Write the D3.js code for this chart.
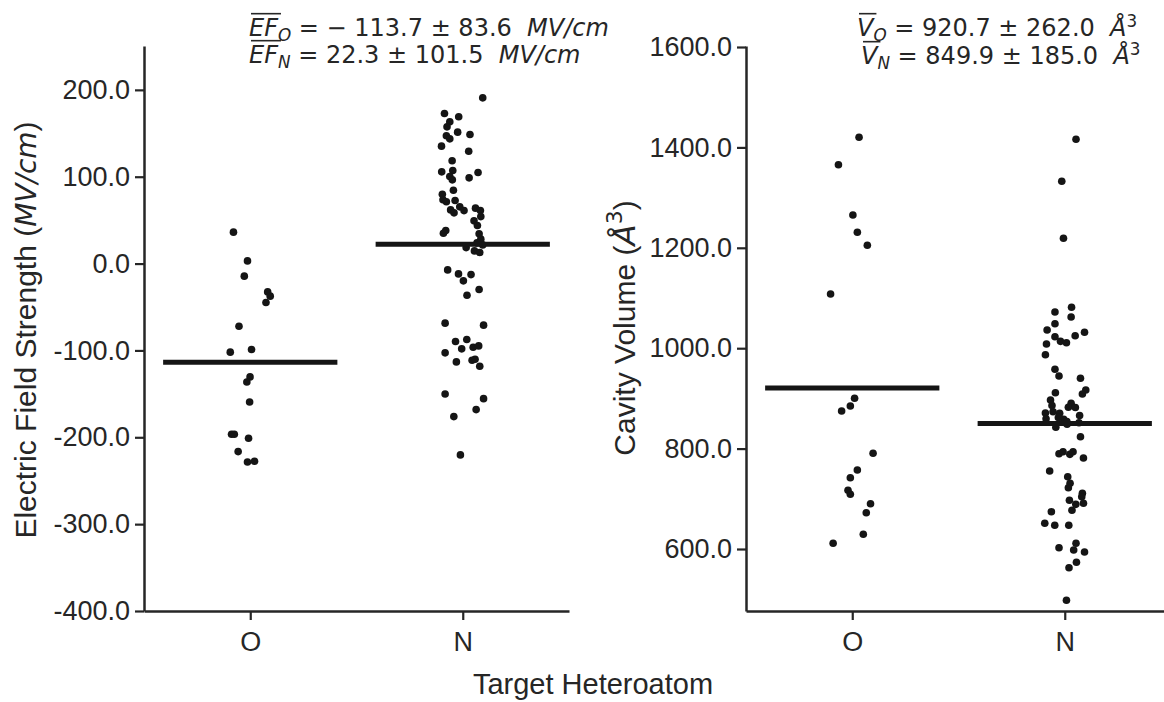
<!DOCTYPE html>
<html>
<head>
<meta charset="utf-8">
<script src="https://cdn.jsdelivr.net/npm/d3@7"></script>
<style>
body { margin: 0; background: #fff; }
svg { display: block; }
text { white-space: pre; }
</style>
</head>
<body>
<div id="chart"></div>
<script>
// categories on the x axis
var categories = ["O", "N"];

// electric field strength (MV/cm), with the stripplot jitter (category units)
var efO = [36.2, 3.1, -14.5, -32.6, -37.5, -44.9, -72.1, -102.0, -99.0, -130.5,
           -136.3, -159.3, -196.5, -196.5, -201.1, -216.5, -228.4, -227.6];
var efOJit = [-0.079, -0.013, -0.028, 0.082, 0.094, 0.074, -0.053, -0.094, 0.006, -0.001,
              -0.016, -0.003, -0.088, -0.075, -0.008, -0.057, -0.013, 0.020];
var efN = [190.8, 172.8, 169.0, 163.2, 157.4, 151.3, 148.6, 147.1, 143.6, 135.2,
           129.4, 118.3, 105.6, 107.1, 104.8, 100.2, 96.4, 98.7, 84.5, 79.9,
           73.4, 71.1, 72.6, 61.8, 58.4, 65.3, 61.0, 63.8, 61.0, 54.1,
           49.2, 43.8, 38.0, 35.0, 34.2, 28.1, 23.8, 21.5, 18.4, 14.6,
           12.7, -7.3, -11.9, -12.7, -19.9, -29.9, -36.4, -68.6, -70.9, -89.8,
           -87.5, -98.2, -96.3, -94.8, -102.8, -113.2, -111.3, -110.1, -118.2, -150.1,
           -155.5, -168.1, -176.2, -220.3];
var efNJit = [0.094, -0.086, -0.019, -0.061, -0.074, -0.024, 0.034, -0.077, -0.061, -0.100,
              0.028, -0.050, -0.099, -0.047, 0.072, -0.061, -0.049, 0.030, -0.044, -0.096,
              -0.093, -0.077, -0.036, -0.057, -0.041, -0.014, 0.006, 0.060, 0.083, 0.085,
              0.053, 0.069, -0.080, -0.091, 0.077, 0.085, 0.067, 0.094, 0.016, 0.055,
              0.080, -0.071, -0.020, 0.039, 0.003, 0.077, 0.020, -0.083, 0.098, -0.034,
              0.019, -0.005, 0.049, 0.075, -0.083, -0.030, 0.044, 0.058, 0.080, -0.083,
              0.098, 0.063, -0.042, -0.011];

// cavity volume (A^3)
var volO = [1420.1, 1365.5, 1265.3, 1230.9, 1205.0, 1108.0, 900.2, 884.9, 874.9, 790.6,
            757.4, 742.0, 717.0, 709.0, 690.2, 672.3, 629.3, 611.4];
var volOJit = [0.032, -0.065, 0.003, 0.024, 0.071, -0.102, 0.011, -0.009, -0.050, 0.098,
               0.024, -0.009, -0.020, -0.009, 0.086, 0.066, 0.052, -0.090];
var volN = [1416.1, 1332.5, 1218.9, 1081.5, 1072.1, 1062.2, 1048.8, 1036.3, 1031.7, 1024.9,
            1022.9, 1013.7, 1011.0, 1008.4, 987.1, 958.0, 944.6, 940.0, 916.7, 908.8,
            911.4, 896.8, 890.2, 882.3, 870.9, 873.5, 870.3, 859.6, 858.4, 851.6,
            848.4, 842.4, 823.7, 789.8, 788.6, 793.8, 793.8, 781.3, 755.4, 744.0,
            730.9, 722.1, 711.0, 704.2, 697.0, 691.0, 689.0, 677.1, 674.3, 651.2,
            647.2, 647.2, 611.4, 602.6, 598.0, 594.0, 573.5, 562.8, 497.8,
            886.0, 866.0, 862.0, 854.0, 882.0];
var volNJit = [0.053, -0.014, -0.006, 0.032, -0.046, 0.030, -0.046, -0.083, 0.093, 0.049,
               -0.046, -0.020, 0.008, -0.086, -0.091, -0.046, -0.027, 0.074, 0.099, 0.083,
               -0.044, -0.067, 0.030, 0.017, -0.091, -0.055, -0.024, -0.088, -0.005, 0.067,
               0.011, -0.042, 0.074, -0.027, 0.024, -0.008, 0.039, 0.088, -0.071, 0.014,
               0.025, 0.017, 0.083, 0.080, 0.022, 0.088, 0.052, 0.034, -0.063, -0.094,
               -0.047, 0.019, 0.053, -0.027, 0.042, 0.093, 0.055, 0.020, 0.008,
               -0.060, 0.070, -0.030, 0.010, 0.050];

// group means and standard deviations shown in the titles
var efMeans = [-113.7, 22.3], efStd = [83.6, 101.5];
var volMeans = [920.7, 849.9], volStd = [262.0, 185.0];

// tick values
var efTicks = [-400, -300, -200, -100, 0, 100, 200];
var volTicks = [600, 800, 1000, 1200, 1400, 1600];

var width = 1164, height = 702;
var ink = '#262626';
var sans = '"Liberation Sans", Arial, sans-serif';
var dejavu = '"DejaVu Sans", sans-serif';

var svg = d3.select('#chart')
    .append('svg')
    .attr('width', width)
    .attr('height', height);

function fmt(d) { return d.toFixed(1); }

// one strip panel
function panel(o) {
    var x = d3.scalePoint().domain(categories).range([o.left, o.right]).padding(0.5);
    var y = d3.scaleLinear().domain(o.domain).range([o.bottom, o.top]);
    var g = svg.append('g');

    var yAxis = g.append('g')
        .attr('transform', 'translate(' + o.left + ',0)')
        .call(d3.axisLeft(y).tickValues(o.ticks).tickFormat(fmt).tickSize(9).tickSizeOuter(0).tickPadding(5));
    var xAxis = g.append('g')
        .attr('transform', 'translate(0,' + o.bottom + ')')
        .call(d3.axisBottom(x).tickSize(9).tickSizeOuter(0).tickPadding(12));
    [yAxis, xAxis].forEach(function(a) {
        a.select('.domain').attr('stroke', ink).attr('stroke-width', 2.5);
        a.selectAll('.tick line').attr('stroke', ink).attr('stroke-width', 2.2);
        a.selectAll('.tick text').attr('fill', ink).style('font-family', sans).style('font-size', '27px');
    });

    var pts = [];
    o.groups.forEach(function(vals, i) {
        vals.forEach(function(v, k) { pts.push({cat: categories[i], v: v, j: o.jits[i][k]}); });
    });
    g.append('g').selectAll('circle')
        .data(pts)
        .enter()
        .append('circle')
        .attr('cx', function(d) { return x(d.cat) + d.j * x.step(); })
        .attr('cy', function(d) { return y(d.v); })
        .attr('r', 3.8)
        .attr('fill', '#151515');

    g.append('g').selectAll('line')
        .data(o.means)
        .enter()
        .append('line')
        .attr('x1', function(d, i) { return x(categories[i]) - 0.41 * x.step(); })
        .attr('x2', function(d, i) { return x(categories[i]) + 0.41 * x.step(); })
        .attr('y1', function(d) { return y(d); })
        .attr('y2', function(d) { return y(d); })
        .attr('stroke', '#151515')
        .attr('stroke-width', 5);
    return g;
}

panel({left: 144, right: 569, top: 46, bottom: 611, domain: [-400, 250.5], ticks: efTicks,
       groups: [efO, efN], jits: [efOJit, efNJit], means: efMeans});
panel({left: 746, right: 1171, top: 46, bottom: 611, domain: [476.5, 1602], ticks: volTicks,
       groups: [volO, volN], jits: [volOJit, volNJit], means: volMeans});

// mathtext-like line: parts {t, it, sub, sup, over}
function mathLine(x, y, size, parts) {
    var t = svg.append('text')
        .attr('x', x).attr('y', y)
        .style('font-family', dejavu).style('font-size', size + 'px')
        .attr('fill', ink);
    var shift = 0, idx = 0, overs = [];
    parts.forEach(function(p) {
        var want = p.sub ? size * 0.22 : p.sup ? -size * 0.38 : 0;
        var s = t.append('tspan').text(p.t).attr('dy', want - shift);
        shift = want;
        if (p.it) s.style('font-style', 'italic');
        if (p.sub || p.sup) s.style('font-size', (size * 0.7) + 'px');
        if (p.over) overs.push([idx, idx + p.t.length - 1]);
        idx += p.t.length;
    });
    var node = t.node();
    overs.forEach(function(r) {
        var a = node.getStartPositionOfChar(r[0]).x + 2;
        var b = node.getEndPositionOfChar(r[1]).x + 3;
        svg.append('line').attr('x1', a).attr('x2', b)
            .attr('y1', y - size * 0.93).attr('y2', y - size * 0.93)
            .attr('stroke', ink).attr('stroke-width', 1.6);
    });
    return t;
}

function pm(m, s) { return (m < 0 ? '\u2212 ' + fmt(-m) : fmt(m)) + ' \u00b1 ' + fmt(s) + '  '; }

mathLine(249, 36, 24, [{t: 'EF', it: true, over: true}, {t: 'O', it: true, sub: true},
    {t: ' = ' + pm(efMeans[0], efStd[0])}, {t: 'MV/cm', it: true}]);
mathLine(249, 63, 24, [{t: 'EF', it: true, over: true}, {t: 'N', it: true, sub: true},
    {t: ' = ' + pm(efMeans[1], efStd[1])}, {t: 'MV/cm', it: true}]);
mathLine(857, 36, 24, [{t: 'V', it: true, over: true}, {t: 'O', it: true, sub: true},
    {t: ' = ' + pm(volMeans[0], volStd[0])}, {t: '\u00c5', it: true}, {t: '3', sup: true}]);
mathLine(861, 64, 24, [{t: 'V', it: true, over: true}, {t: 'N', it: true, sub: true},
    {t: ' = ' + pm(volMeans[1], volStd[1])}, {t: '\u00c5', it: true}, {t: '3', sup: true}]);

// axis labels
var yl = svg.append('text')
    .attr('transform', 'translate(36,' + 330 + ') rotate(-90)')
    .attr('text-anchor', 'middle')
    .attr('fill', ink)
    .style('font-family', sans).style('font-size', '30px');
yl.append('tspan').text('Electric Field Strength (');
yl.append('tspan').text('MV/cm').style('font-style', 'italic').style('font-family', dejavu).style('font-size', '28px');
yl.append('tspan').text(')');

var vl = svg.append('text')
    .attr('transform', 'translate(635,' + 328 + ') rotate(-90)')
    .attr('text-anchor', 'middle')
    .attr('fill', ink)
    .style('font-family', sans).style('font-size', '30px');
vl.append('tspan').text('Cavity Volume (');
vl.append('tspan').text('\u00c5').style('font-style', 'italic').style('font-family', dejavu).style('font-size', '31px');
vl.append('tspan').text('3').attr('dy', -13).style('font-family', dejavu).style('font-size', '22px');
vl.append('tspan').text(')').attr('dy', 13);

svg.append('text')
    .attr('x', 593).attr('y', 694)
    .attr('text-anchor', 'middle')
    .attr('fill', ink)
    .style('font-family', sans).style('font-size', '29px')
    .text('Target Heteroatom');
</script>
</body>
</html>
